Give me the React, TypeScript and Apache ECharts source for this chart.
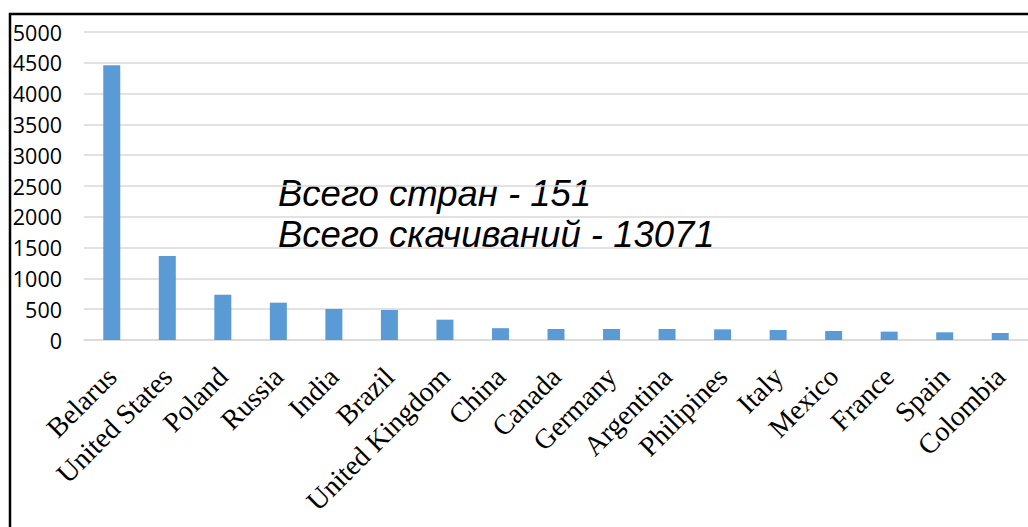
import React, { useEffect, useRef } from "react";
import * as echarts from "echarts";

const countries = [
  "Belarus", "United States", "Poland", "Russia", "India", "Brazil",
  "United Kingdom", "China", "Canada", "Germany", "Argentina", "Philipines",
  "Italy", "Mexico", "France", "Spain", "Colombia",
];
const downloads = [
  4460, 1365, 735, 606, 504, 488, 330, 192, 179, 179, 179, 173, 162, 146, 136, 125, 114,
];
const yTicks = { min: 0, max: 5000, interval: 500 };
const noteLines = ["Всего стран - 151", "Всего скачиваний - 13071"];

export default function App() {
  const ref = useRef<HTMLDivElement>(null);
  useEffect(() => {
    if (!ref.current) return;
    const chart = echarts.init(ref.current, null, { renderer: "svg" });
    chart.setOption({
      animation: false,
      grid: { left: 84, right: -3, top: 32, bottom: 187, containLabel: false },
      xAxis: {
        type: "category",
        data: countries,
        axisLine: { lineStyle: { color: "#d9d9d9", width: 1.5 } },
        axisTick: { show: false },
        axisLabel: {
          interval: 0,
          rotate: 45,
          margin: 32,
          color: "#000",
          fontFamily: "Liberation Serif, 'Times New Roman', serif",
          fontSize: 28,
        },
      },
      yAxis: {
        type: "value",
        min: yTicks.min,
        max: yTicks.max,
        interval: yTicks.interval,
        axisLine: { show: false },
        axisTick: { show: false },
        splitLine: { lineStyle: { color: "#d9d9d9", width: 1.5 } },
        axisLabel: {
          margin: 22,
          color: "#000",
          fontFamily: "'Open Sans', sans-serif",
          fontSize: 21.5,
          formatter: (v: number) => String(v),
        },
      },
      series: [
        {
          type: "bar",
          data: downloads,
          barWidth: 17,
          itemStyle: { color: "#5b9bd5" },
        },
      ],
      graphic: [
        {
          type: "rect",
          shape: { x: 10, y: 14, width: 1200, height: 1000 },
          style: { fill: "none", stroke: "#000", lineWidth: 2.5 },
          silent: true,
        },
        ...noteLines.map((t, i) => ({
          type: "text",
          x: 278,
          y: 193 + i * 41,
          style: {
            text: t,
            fill: "#000",
            font: "italic 36.5px 'Liberation Sans', Arial, sans-serif",
            textAlign: "left",
            textVerticalAlign: "middle",
          },
          silent: true,
        })),
      ],
    });
    return () => chart.dispose();
  }, []);
  return (
    <div
      ref={ref}
      style={{ position: "absolute", left: 0, top: 0, width: 1028, height: 527 }}
    />
  );
}
